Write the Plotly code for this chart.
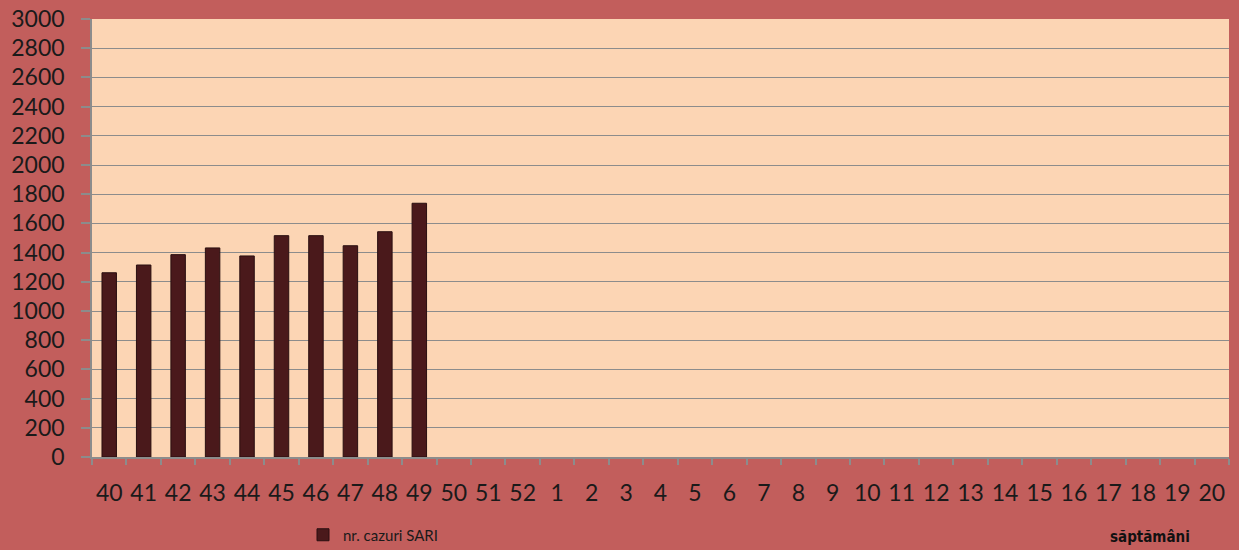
import plotly.graph_objects as go

weeks = [str(w) for w in list(range(40, 53)) + list(range(1, 21))]
cases = [1262, 1315, 1386, 1432, 1377, 1516, 1516, 1447, 1543, 1738]
cases_full = cases + [None] * (len(weeks) - len(cases))
series_name = "nr. cazuri SARI"
x_title = "săptămâni"
y_ticks = list(range(0, 3001, 200))

L, R, T, B = 92, 10, 19, 93
W, H = 1239, 550

fig = go.Figure()
fig.add_trace(go.Bar(
    x=weeks, y=cases_full, name=series_name,
    marker=dict(color="#4A191B", line=dict(color="#2A0F10", width=1)),
    showlegend=True,
))

fig.update_layout(
    width=W, height=H,
    margin=dict(l=L, r=R, t=T, b=B, autoexpand=False),
    paper_bgcolor="#C25E5C",
    plot_bgcolor="#FCD5B4",
    bargap=0.58,
    font=dict(family="Lato, Open Sans, sans-serif", color="#1a1a1a"),
    showlegend=True,
    legend=dict(x=(303 - L) / (W - L - R), y=-78 / (H - T - B), xanchor="left", yanchor="middle",
                bgcolor="rgba(0,0,0,0)", font=dict(size=15, color="#1a1a1a"),
                itemwidth=30, orientation="h"),
    annotations=[dict(text=x_title, x=(1150 - L) / (W - L - R),
                      y=-80 / (H - T - B), xref="paper", yref="paper",
                      xanchor="center", yanchor="middle", showarrow=False,
                      font=dict(size=15, family="DejaVu Sans Condensed", weight="bold",
                                color="#111111"))],
)

fig.update_xaxes(
    type="category", categoryorder="array", categoryarray=weeks,
    showline=True, linecolor="#8C8C8C", linewidth=1.5,
    ticks="outside", ticklen=6, tickcolor="#8C8C8C", tickwidth=1.5,
    tickson="boundaries", showgrid=False, tickangle=0, automargin=False,
    tickfont=dict(size=23, family="Lato, Open Sans, sans-serif", color="#1a1a1a"),
    ticklabelstandoff=15,
)
fig.update_yaxes(
    range=[0, 3000], tickvals=y_ticks,
    showline=True, linecolor="#8C8C8C", linewidth=1.5,
    showgrid=True, gridcolor="#8C8C8C", gridwidth=1.2,
    ticks="outside", ticklen=9, tickcolor="#8C8C8C", tickwidth=1.5, automargin=False,
    tickfont=dict(size=23, family="Lato, Open Sans, sans-serif", color="#1a1a1a"),
    ticklabelstandoff=12,
    zeroline=False,
)

fig.write_html("out.html", config={"displayModeBar": False},
               post_script="document.body.style.margin='0';document.body.style.overflow='hidden';")
